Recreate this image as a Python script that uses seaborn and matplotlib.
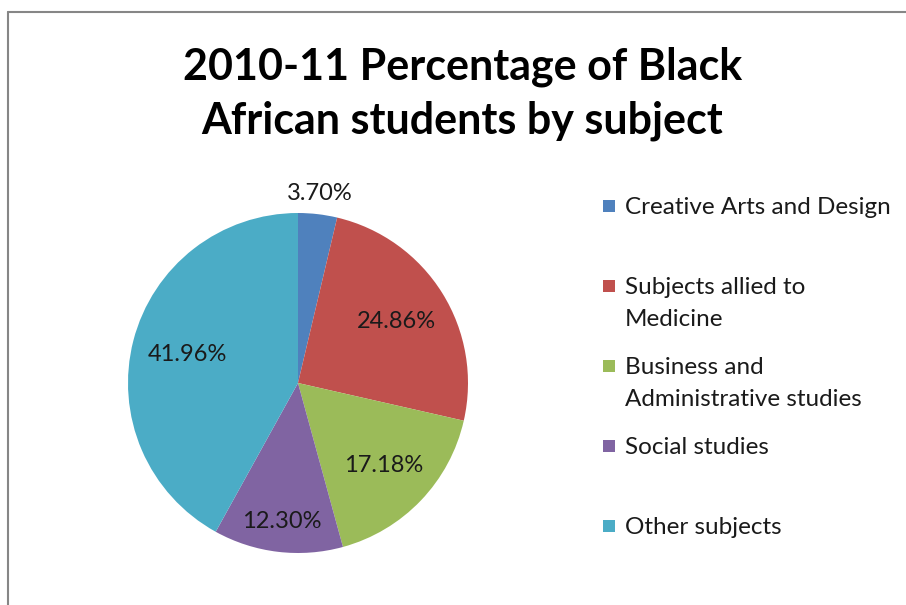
import matplotlib
matplotlib.use("Agg")
import matplotlib.pyplot as plt
import seaborn as sns
import numpy as np
from matplotlib.patches import Rectangle

categories = ["Creative Arts and Design", "Subjects allied to\nMedicine",
              "Business and\nAdministrative studies", "Social studies", "Other subjects"]
values = [3.70, 24.86, 17.18, 12.30, 41.96]
title = "2010-11 Percentage of Black\nAfrican students by subject"

sns.set_theme(style="white")
plt.rcParams['font.family'] = ['Lato', 'DejaVu Sans']
colors = ["#4F81BD", "#C0504D", "#9BBB59", "#8064A2", "#4BACC6"]

W, H = 906, 605
fig = plt.figure(figsize=(W / 100, H / 100), dpi=100)
fig.patch.set_facecolor("white")

# border (top and left)
fig.add_artist(plt.Line2D([8 / W, 8 / W], [0, 1 - 12 / H], color="#868686", lw=1.5, transform=fig.transFigure))
fig.add_artist(plt.Line2D([8 / W, 1], [1 - 12 / H, 1 - 12 / H], color="#868686", lw=1.5, transform=fig.transFigure))

cx, cy, r = 298, 383, 170
ax = fig.add_axes([(cx - r) / W, (H - cy - r) / H, 2 * r / W, 2 * r / H])
wedges, texts, autotexts = ax.pie(values, colors=colors, startangle=90, counterclock=False,
                                  autopct=lambda p: f"{p:.2f}%", pctdistance=0.7,
                                  textprops=dict(fontsize=17, color="#1a1a1a"),
                                  wedgeprops=dict(linewidth=0))
ax.set_xlim(-1, 1)
ax.set_ylim(-1, 1)
ax.set_aspect("equal")
ax.axis("off")

label_r = [1.12, 0.68, 0.70, 0.82, 0.67]
cum = np.cumsum([0] + values)
for i, t in enumerate(autotexts):
    t.set_text(f"{values[i]:.2f}%")
    mid = (cum[i] + cum[i + 1]) / 2 / sum(values) * 2 * np.pi
    t.set_position((label_r[i] * np.sin(mid), label_r[i] * np.cos(mid)))
    t.set_ha("center")
    t.set_va("center")

fig.text(0.5 * (183 + 742) / W, 1 - 94 / H, title, ha="center", va="center",
         fontsize=31, fontweight="bold", color="black", linespacing=1.4)

# legend
legend_y = [206, 286, 366, 446, 526]
for i, (lab, y) in enumerate(zip(categories, legend_y)):
    fig.add_artist(Rectangle(((603) / W, 1 - (y + 6) / H), 12 / W, 12 / H,
                             transform=fig.transFigure, color=colors[i], lw=0))
    fig.text(625 / W, 1 - (y - 9) / H, lab, ha="left", va="top", fontsize=17.5,
             color="#1a1a1a", linespacing=1.65)

fig.savefig("out.png", dpi=100)
